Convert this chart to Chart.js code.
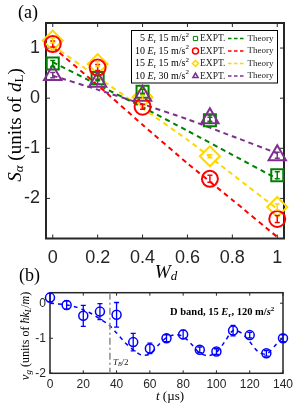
<!DOCTYPE html>
<html>
<head>
<meta charset="utf-8">
<script src="https://cdn.jsdelivr.net/npm/chart.js@4.4.0/dist/chart.umd.min.js"></script>
<style>
  html, body { margin: 0; padding: 0; background: #fff; }
  canvas { position: absolute; left: 0; }
  #chartA { top: 0; }
  #chartB { top: 262px; }
</style>
</head>
<body>
<canvas id="chartA" width="300" height="285"></canvas>
<canvas id="chartB" width="300" height="146"></canvas>
<script>
// ---- panel (a) data ----
const wdPoints = [0, 0.2, 0.4, 0.7, 1];
const wdTheory = [0, 0.2, 0.4, 0.6, 0.8, 1];
const wdTicks = [0, 0.2, 0.4, 0.6, 0.8, 1];
const saTicks = [-2, -1, 0, 1];
const depthLabels = ['5', '10', '15', '10'];
const accelLabels = ['15', '15', '15', '30'];
const expt5Er15 = [0.69, 0.40, 0.13, -0.44, -1.54];
const expt10Er15 = [1.08, 0.61, -0.17, -1.61, -2.41];
const expt15Er15 = [1.15, 0.68, 0.02, -1.16, -2.17];
const expt10Er30 = [0.46, 0.33, 0.05, -0.40, -1.14];
const err5Er15 = [0.06, 0.05, 0.05, 0.06, 0.07];
const err10Er15 = [0.06, 0.06, 0.05, 0.07, 0.07];
const err15Er15 = [0.05, 0.05, 0.04, 0.03, 0.06];
const err10Er30 = [0.05, 0.05, 0.05, 0.06, 0.06];
const theory5Er15 = [0.72, 0.27, -0.18, -0.65, -1.13, -1.61];
const theory10Er15 = [1.02, 0.26, -0.53, -1.30, -2.03, -2.77];
const theory15Er15 = [1.05, 0.42, -0.20, -0.83, -1.52, -2.21];
const theory10Er30 = [0.45, 0.17, -0.12, -0.42, -0.76, -1.10];

// ---- panel (b) data ----
const tPoints = [0, 10, 20, 30, 40, 50, 60, 70, 80, 90, 100, 110, 120, 130, 140];
const vgPoints = [0.16, -0.05, -0.36, -0.24, -0.33, -1.11, -1.29, -1.00, -0.89, -1.33, -1.38, -0.78, -0.91, -1.43, -1.00];
const vgErrors = [0.12, 0.12, 0.30, 0.23, 0.35, 0.25, 0.15, 0.10, 0.12, 0.08, 0.08, 0.15, 0.08, 0.08, 0.10];
const fitT = [0, 5, 10, 15, 20, 25, 30, 35, 40, 45, 50, 55, 60, 65, 70, 75, 80, 85, 90, 95, 100, 105, 110, 115, 120, 125, 130, 135, 140];
const fitV = [0.0, -0.02, -0.05, -0.10, -0.19, -0.30, -0.45, -0.60, -0.85, -1.12, -1.33, -1.48, -1.45, -1.20, -0.98, -0.90, -0.95, -1.17, -1.42, -1.50, -1.40, -1.10, -0.78, -0.85, -1.10, -1.38, -1.45, -1.22, -0.98];
const tTicks = [0, 20, 40, 60, 80, 100, 120, 140];
const vgTicks = [-2, -1, 0];
const halfBlochT = 36;

const GREEN = '#008000', RED = '#ff0000', YELLOW = '#ffd700', PURPLE = '#7e2f8e', BLUE = '#0000ff';
const AXIS = '#262626';
const SERIF = '"Liberation Serif", "DejaVu Serif", serif';

Chart.defaults.font.family = '"Liberation Sans", Arial, sans-serif';
Chart.defaults.color = AXIS;

const pts = (xs, ys) => xs.map((x, i) => ({ x: x, y: ys[i] }));

// draws a run of differently styled pieces of text, centred on (x, y)
function drawRich(ctx, parts, x, y, rot, align) {
  ctx.save();
  ctx.translate(x, y);
  if (rot) ctx.rotate(rot);
  ctx.textBaseline = 'middle';
  ctx.textAlign = 'left';
  let w = 0;
  parts.forEach((p) => { ctx.font = p[1]; w += ctx.measureText(p[0]).width; });
  let cx = align === 'left' ? 0 : align === 'right' ? -w : -w / 2;
  parts.forEach((p) => {
    ctx.font = p[1];
    ctx.fillText(p[0], cx, p[2] || 0);
    cx += ctx.measureText(p[0]).width;
  });
  ctx.restore();
}

const frame = {
  id: 'frame',
  beforeDatasetsDraw(chart, args, opts) {
    const { ctx, chartArea: a, scales } = chart;
    const L = opts.tick;
    ctx.save();
    ctx.strokeStyle = AXIS;
    ctx.lineWidth = 1;
    ctx.beginPath();
    scales.x.ticks.forEach((t) => {
      const px = scales.x.getPixelForValue(t.value);
      ctx.moveTo(px, a.bottom); ctx.lineTo(px, a.bottom - L);
      ctx.moveTo(px, a.top); ctx.lineTo(px, a.top + L);
    });
    scales.y.ticks.forEach((t) => {
      const py = scales.y.getPixelForValue(t.value);
      ctx.moveTo(a.left, py); ctx.lineTo(a.left + L, py);
      ctx.moveTo(a.right, py); ctx.lineTo(a.right - L, py);
    });
    ctx.stroke();
    ctx.lineWidth = opts.width;
    ctx.strokeRect(a.left, a.top, a.right - a.left, a.bottom - a.top);
    ctx.restore();
  }
};

const errorBars = {
  id: 'errorBars',
  afterDatasetsDraw(chart) {
    const ctx = chart.ctx, ys = chart.scales.y;
    chart.data.datasets.forEach((ds, i) => {
      if (!ds.errors) return;
      const meta = chart.getDatasetMeta(i);
      ctx.save();
      ctx.strokeStyle = ds.borderColor;
      ctx.lineWidth = ds.errorWidth;
      ctx.beginPath();
      meta.data.forEach((pt, j) => {
        const v = ds.data[j].y, e = ds.errors[j], c = ds.capSize;
        const y1 = ys.getPixelForValue(v + e), y2 = ys.getPixelForValue(v - e);
        ctx.moveTo(pt.x, y1); ctx.lineTo(pt.x, y2);
        ctx.moveTo(pt.x - c, y1); ctx.lineTo(pt.x + c, y1);
        ctx.moveTo(pt.x - c, y2); ctx.lineTo(pt.x + c, y2);
      });
      ctx.stroke();
      ctx.restore();
    });
  }
};

const exptSets = [
  { label: '10 Er 15', data: pts(wdPoints, expt10Er15), errors: err10Er15, color: RED, style: 'circle', r: 8 },
  { label: '10 Er 30', data: pts(wdPoints, expt10Er30), errors: err10Er30, color: PURPLE, style: 'triangle', r: 10 },
  { label: '5 Er 15', data: pts(wdPoints, expt5Er15), errors: err5Er15, color: GREEN, style: 'rect', r: 8.5 },
  { label: '15 Er 15', data: pts(wdPoints, expt15Er15), errors: err15Er15, color: YELLOW, style: 'rectRot', r: 10 }
];
const theorySets = [
  { data: pts(wdTheory, theory10Er15), color: RED },
  { data: pts(wdTheory, theory10Er30), color: PURPLE },
  { data: pts(wdTheory, theory5Er15), color: GREEN },
  { data: pts(wdTheory, theory15Er15), color: YELLOW }
];
const legendRows = [
  { color: GREEN, style: 'rect' },
  { color: RED, style: 'circle' },
  { color: YELLOW, style: 'rectRot' },
  { color: PURPLE, style: 'triangle' }
];

const panelA = {
  id: 'panelA',
  afterDraw(chart) {
    const ctx = chart.ctx;
    ctx.save();
    ctx.fillStyle = '#000';
    drawRich(ctx, [['(a)', '18px ' + SERIF]], 28, 13.5);
    drawRich(ctx, [
      ['S', 'italic 19px ' + SERIF],
      ['α', 'italic 13px ' + SERIF, 4],
      [' (units of ', '19px ' + SERIF],
      ['d', 'italic 19px ' + SERIF],
      ['L', '13px ' + SERIF, 4],
      [')', '19px ' + SERIF]
    ], 16, 125, -Math.PI / 2);
    drawRich(ctx, [['W', 'italic 19px ' + SERIF], ['d', 'italic 13px ' + SERIF, 4]], 166, 273);

    // legend box
    ctx.fillStyle = '#fff';
    ctx.fillRect(131, 30, 147, 53);
    ctx.strokeStyle = '#000';
    ctx.lineWidth = 1;
    ctx.strokeRect(131.5, 30.5, 146, 52.5);
    legendRows.forEach((row, i) => {
      const y = 38.5 + i * 12.5;
      ctx.fillStyle = '#000';
      drawRich(ctx, [
        [depthLabels[i] + ' ', '10px ' + SERIF],
        ['E', 'italic 10px ' + SERIF],
        ['r', '7px ' + SERIF, 2.5],
        [' ' + accelLabels[i] + ' m/s', '10px ' + SERIF],
        ['2', '7px ' + SERIF, -3.5]
      ], 189, y, 0, 'right');
      ctx.strokeStyle = row.color;
      ctx.fillStyle = 'rgba(0,0,0,0)';
      Chart.helpers.drawPoint(ctx, { pointStyle: row.style, radius: 3, borderWidth: 1.5 }, 195.5, y);
      ctx.fillStyle = '#222';
      drawRich(ctx, [['EXPT.', '9.5px ' + SERIF]], 200, y, 0, 'left');
      ctx.strokeStyle = row.color;
      ctx.lineWidth = 1.5;
      ctx.setLineDash([3.5, 2.5]);
      ctx.beginPath(); ctx.moveTo(228, y); ctx.lineTo(246, y); ctx.stroke();
      ctx.setLineDash([]);
      drawRich(ctx, [['Theory', '9px ' + SERIF]], 247.5, y, 0, 'left');
    });
    ctx.restore();
  }
};

new Chart(document.getElementById('chartA'), {
  type: 'line',
  data: {
    datasets: exptSets.map((s) => ({
      data: s.data,
      errors: s.errors,
      errorWidth: 1.5,
      capSize: 2.5,
      showLine: false,
      borderColor: s.color,
      pointStyle: s.style,
      pointRadius: s.r,
      pointBorderWidth: 2,
      pointBorderColor: s.color,
      pointBackgroundColor: 'rgba(0,0,0,0)',
      clip: false
    })).concat(theorySets.map((s) => ({
      data: s.data,
      borderColor: s.color,
      borderWidth: 2,
      borderDash: [5, 4],
      pointRadius: 0,
      tension: 0.2,
      fill: false
    })))
  },
  options: {
    responsive: false,
    animation: false,
    events: [],
    layout: { padding: { top: 23, right: 16, left: 0, bottom: 0 } },
    plugins: { legend: { display: false }, tooltip: { enabled: false }, frame: { width: 2, tick: 4 } },
    scales: {
      x: {
        type: 'linear', min: -0.03, max: 1.03,
        afterBuildTicks: (s) => { s.ticks = wdTicks.map((v) => ({ value: v })); },
        afterFit: (s) => { s.height = 285 - 238.5; },
        grid: { display: false, drawTicks: false },
        border: { display: false },
        ticks: { font: { size: 18 }, padding: 9, maxRotation: 0, autoSkip: false, callback: (v) => String(v) }
      },
      y: {
        type: 'linear', min: -2.8, max: 1.5,
        afterBuildTicks: (s) => { s.ticks = saTicks.map((v) => ({ value: v })); },
        afterFit: (s) => { s.width = 46; },
        grid: { display: false, drawTicks: false },
        border: { display: false },
        ticks: { font: { size: 18 }, padding: 6, callback: (v) => String(v) }
      }
    }
  },
  plugins: [frame, errorBars, panelA]
});

const panelB = {
  id: 'panelB',
  afterDraw(chart) {
    const ctx = chart.ctx, a = chart.chartArea, xs = chart.scales.x;
    ctx.save();
    const vx = xs.getPixelForValue(halfBlochT);
    ctx.strokeStyle = '#8c8c8c';
    ctx.lineWidth = 1.5;
    ctx.setLineDash([7, 3, 2, 3]);
    ctx.beginPath(); ctx.moveTo(vx, a.top); ctx.lineTo(vx, a.bottom); ctx.stroke();
    ctx.setLineDash([]);
    ctx.fillStyle = '#222';
    drawRich(ctx, [['T', 'italic 9px ' + SERIF], ['B', 'italic 6px ' + SERIF, 2], ['/2', '9px ' + SERIF]], vx + 3, 100.5, 0, 'left');
    ctx.fillStyle = '#000';
    drawRich(ctx, [
      ['D band, 15 ', 'bold 10.5px ' + SERIF],
      ['E', 'bold italic 10.5px ' + SERIF],
      ['r', 'bold 7px ' + SERIF, 2.5],
      [', 120 m/', 'bold 10.5px ' + SERIF],
      ['s', 'bold italic 10.5px ' + SERIF],
      ['2', 'bold 7px ' + SERIF, -3.5]
    ], 170, 50.7, 0, 'left');
    drawRich(ctx, [['(b)', '18px ' + SERIF]], 29.5, 14.5);
    drawRich(ctx, [
      ['v', 'italic 13px ' + SERIF],
      ['g', 'italic 9px ' + SERIF, 3],
      [' (units of ', '12px ' + SERIF],
      ['ħk', 'italic 12px ' + SERIF],
      ['L', 'italic 8px ' + SERIF, 3],
      ['/', '12px ' + SERIF],
      ['m', 'italic 12px ' + SERIF],
      [')', '12px ' + SERIF]
    ], 26, 74, -Math.PI / 2);
    drawRich(ctx, [['t', 'italic 13px ' + SERIF], [' (µs)', '13px ' + SERIF]], 170, 135);
    ctx.restore();
  }
};

new Chart(document.getElementById('chartB'), {
  type: 'line',
  data: {
    datasets: [
      {
        data: pts(tPoints, vgPoints),
        errors: vgErrors,
        errorWidth: 1.3,
        capSize: 2.5,
        showLine: false,
        borderColor: BLUE,
        pointStyle: 'circle',
        pointRadius: 4.5,
        pointBorderWidth: 1.5,
        pointBorderColor: BLUE,
        pointBackgroundColor: 'rgba(0,0,0,0)',
        clip: false
      },
      {
        data: pts(fitT, fitV),
        borderColor: BLUE,
        borderWidth: 1.5,
        borderDash: [4, 4],
        pointRadius: 0,
        tension: 0.3,
        fill: false
      }
    ]
  },
  options: {
    responsive: false,
    animation: false,
    events: [],
    layout: { padding: { top: 30.7, right: 17, left: 0, bottom: 0 } },
    plugins: { legend: { display: false }, tooltip: { enabled: false }, frame: { width: 1.5, tick: 3 } },
    scales: {
      x: {
        type: 'linear', min: 0, max: 140,
        afterBuildTicks: (s) => { s.ticks = tTicks.map((v) => ({ value: v })); },
        afterFit: (s) => { s.height = 146 - 111.3; },
        grid: { display: false, drawTicks: false },
        border: { display: false },
        ticks: { font: { size: 12 }, padding: 4, maxRotation: 0, autoSkip: false, callback: (v) => String(v) }
      },
      y: {
        type: 'linear', min: -2, max: 0.3,
        afterBuildTicks: (s) => { s.ticks = vgTicks.map((v) => ({ value: v })); },
        afterFit: (s) => { s.width = 50; },
        grid: { display: false, drawTicks: false },
        border: { display: false },
        ticks: { font: { size: 12 }, padding: 4, callback: (v) => String(v) }
      }
    }
  },
  plugins: [frame, errorBars, panelB]
});
</script>
</body>
</html>
